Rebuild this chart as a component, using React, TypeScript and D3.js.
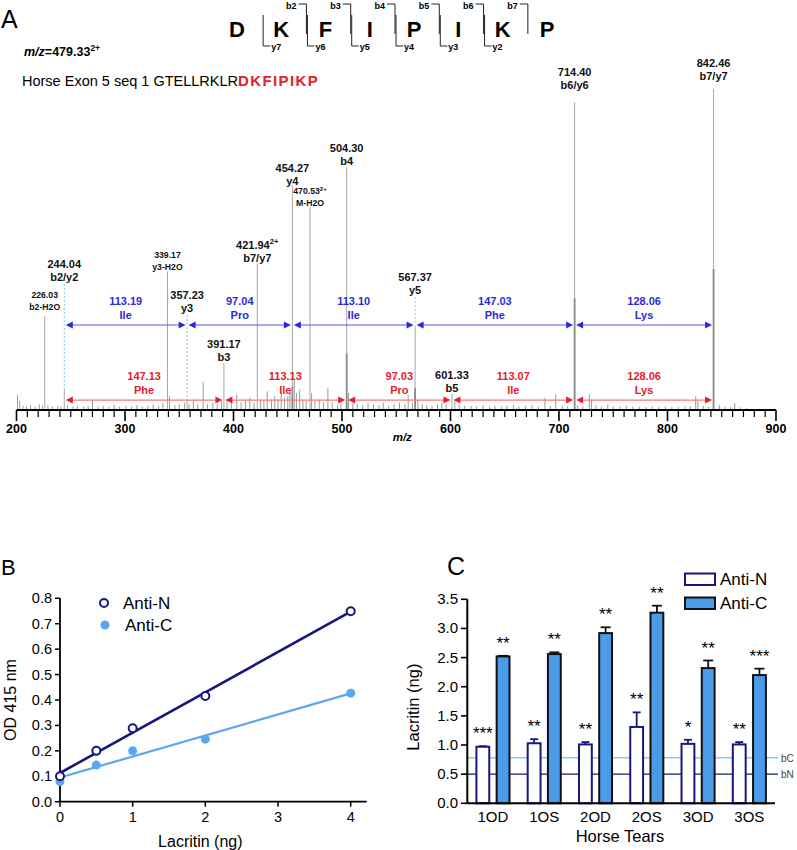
import React from 'react';
import * as d3 from 'd3';

const FONT = 'Liberation Sans, Arial, Helvetica, sans-serif';

// ---------- Panel A data ----------
const residues = ['D', 'K', 'F', 'I', 'P', 'I', 'K', 'P'];
const bIons = ['b2', 'b3', 'b4', 'b5', 'b6', 'b7']; // cleavage after residue 1..6
const yIons = ['y7', 'y6', 'y5', 'y4', 'y3', 'y2']; // cleavage after residue 0..5
const precursorMz = '479.33';
const seqPrefix = 'Horse Exon 5 seq 1 GTELLRKLR';
const seqPeptide = 'DKFIPIKP';

type LPeak = { mz: number; intensity: number; labelAt: number; lines: string[]; small?: boolean; dashed?: boolean; charge?: string };
const labeledPeaks: LPeak[] = [
  { mz: 226.03, intensity: 29, labelAt: 31, lines: ['226.03', 'b2-H2O'], small: true },
  { mz: 244.04, intensity: 6, labelAt: 40, lines: ['244.04', 'b2/y2'], dashed: true },
  { mz: 339.17, intensity: 43, labelAt: 43.4, lines: ['339.17', 'y3-H2O'], small: true },
  { mz: 357.23, intensity: 3, labelAt: 30.3, lines: ['357.23', 'y3'], dashed: true },
  { mz: 391.17, intensity: 14.4, labelAt: 15, lines: ['391.17', 'b3'] },
  { mz: 421.94, intensity: 45.6, labelAt: 45.9, lines: ['421.94', 'b7/y7'], charge: '2+' },
  { mz: 454.27, intensity: 70, labelAt: 70, lines: ['454.27', 'y4'] },
  { mz: 470.53, intensity: 63, labelAt: 63.4, lines: ['470.53', 'M-H2O'], small: true, charge: '2+' },
  { mz: 504.3, intensity: 75.6, labelAt: 76.2, lines: ['504.30', 'b4'] },
  { mz: 567.37, intensity: 25.6, labelAt: 35.9, lines: ['567.37', 'y5'], dashed: true },
  { mz: 601.33, intensity: 4.7, labelAt: 5.3, lines: ['601.33', 'b5'] },
  { mz: 714.4, intensity: 95.9, labelAt: 100, lines: ['714.40', 'b6/y6'] },
  { mz: 842.46, intensity: 100, labelAt: 102.8, lines: ['842.46', 'b7/y7'] },
];

// darker lower (profile) part of the strongest peaks
const profilePeaks: [number, number][] = [
  [842.46, 43.7], [714.4, 34.6], [504.3, 17.3], [454.27, 7], [567.37, 6.5],
];

const noisePeaks: [number, number][] = [
  [201, 4.5], [203, 2.5], [206, 1], [209, 0.8], [213, 1.2], [217, 0.7], [221, 1.5], [224, 1], [229, 1.2], [233, 0.8],
  [238, 1], [241, 0.8], [247, 1.2], [252, 0.8], [256, 1], [262, 0.7], [266, 1], [270, 3], [275, 0.8], [280, 1],
  [285, 0.7], [290, 1.2], [295, 0.8], [301, 1], [306, 0.7], [311, 1.3], [316, 0.8], [321, 1], [326, 1.5], [331, 1],
  [335, 1.8], [341, 4], [346, 1.2], [350, 1.5], [355, 2], [359, 1.5], [363, 2.5], [367, 1.5], [372, 8.5], [376, 1.5],
  [381, 2], [385, 1.5], [389, 2.5], [394, 3], [398, 2], [403, 4.5], [407, 2], [411, 2.5], [415, 3.5], [419, 2],
  [425, 3], [428, 2.5], [431, 5.5], [435, 3], [438, 4], [441, 3], [444, 5], [447, 3.5], [450, 4], [452, 6],
  [456, 9], [458, 5], [461, 6], [464, 3], [467, 2.5], [472, 5], [475, 2.5], [479, 3], [483, 2], [487, 6.5],
  [491, 2], [496, 1.5], [499, 2], [506, 5], [510, 2], [514, 1.5], [519, 1.2], [524, 2], [529, 1.5], [534, 1.2],
  [538, 2], [543, 1], [548, 1.5], [553, 2], [558, 1.5], [561, 4.5], [565, 2], [570, 3], [574, 1.5], [578, 1.2],
  [583, 1], [588, 1.5], [592, 2], [596, 1.5], [604, 2.5], [608, 1.5], [613, 1], [619, 1], [624, 0.8], [630, 1.2],
  [636, 0.8], [641, 1], [647, 0.8], [652, 1], [658, 1.2], [663, 0.8], [669, 1], [675, 1.2], [681, 0.8], [687, 3.5],
  [692, 1], [697, 4.5], [703, 1], [708, 0.8], [717, 1.2], [722, 0.8], [728, 4.5], [730, 3], [734, 1.2], [739, 0.8],
  [745, 1.5], [750, 0.8], [756, 0.7], [762, 1], [768, 0.7], [774, 0.8], [780, 0.6], [786, 0.8], [792, 0.6], [798, 0.8],
  [804, 0.6], [810, 0.7], [816, 0.8], [821, 1], [826, 4], [828, 2.5], [833, 1], [838, 0.8], [848, 1.2], [853, 0.7],
  [858, 0.6], [862, 1.8], [867, 0.5], [873, 0.4],
];

const blueLadder = [244.04, 357.23, 454.27, 567.37, 714.4, 842.46];
const blueDeltas = ['113.19', '97.04', '113.10', '147.03', '128.06'];
const blueResidues = ['Ile', 'Pro', 'Ile', 'Phe', 'Lys'];
const redLadder = [244.04, 391.17, 504.3, 601.33, 714.4, 842.46];
const redDeltas = ['147.13', '113.13', '97.03', '113.07', '128.06'];
const redResidues = ['Phe', 'Ile', 'Pro', 'Ile', 'Lys'];
const blueLevel = 26.25;
const redLevel = 2.8;
const mzTicks = d3.range(200, 901, 10);
const mzLabels = d3.range(200, 901, 100);

// ---------- Panel B data ----------
const conc = [0, 0.5, 1, 2, 4];
const odAntiN = [0.1, 0.2, 0.289, 0.416, 0.749];
const odAntiC = [0.079, 0.144, 0.2, 0.246, 0.427];
const bYTicks = d3.range(0, 0.81, 0.1);
const bXTicks = [0, 1, 2, 3, 4];

// ---------- Panel C data ----------
const tears = ['1OD', '1OS', '2OD', '2OS', '3OD', '3OS'];
const antiN = [0.97, 1.03, 1.01, 1.31, 1.02, 1.01];
const antiNErr = [0.01, 0.07, 0.04, 0.25, 0.07, 0.04];
const antiC = [2.52, 2.56, 2.92, 3.27, 2.32, 2.2];
const antiCErr = [0.01, 0.03, 0.1, 0.12, 0.13, 0.11];
const starsN = ['***', '**', '**', '**', '*', '**'];
const starsC = ['**', '**', '**', '**', '**', '***'];
const baselineN = 0.5;
const baselineC = 0.78;
const cYTicks = d3.range(0, 3.51, 0.5);

const NAVY = '#17177d';
const LIGHT = '#5aa6ef';
const BARBLUE = '#4a9be8';
const BLUE_T = '#2b2bdc';
const RED_T = '#e4202a';

function regression(xs: number[], ys: number[]) {
  const mx = d3.mean(xs)!;
  const my = d3.mean(ys)!;
  const sxy = d3.sum(xs.map((x, i) => (x - mx) * (ys[i] - my)));
  const sxx = d3.sum(xs.map((x) => (x - mx) * (x - mx)));
  const slope = sxy / sxx;
  return { slope, intercept: my - slope * mx };
}

function Ladder({ ladder, deltas, names, level, color, lineColor, x, y }: any) {
  const ay = y(level);
  return (
    <g>
      {deltas.map((d: string, i: number) => {
        const x1 = x(ladder[i]) + 1.5;
        const x2 = x(ladder[i + 1]) - 1.5;
        const mid = (x1 + x2) / 2;
        return (
          <g key={i}>
            <line x1={x1 + 4} x2={x2 - 4} y1={ay} y2={ay} stroke={lineColor} strokeWidth={1.2} />
            <path d={`M${x1},${ay}L${x1 + 7},${ay - 3.5}L${x1 + 7},${ay + 3.5}Z`} fill={color} />
            <path d={`M${x2},${ay}L${x2 - 7},${ay - 3.5}L${x2 - 7},${ay + 3.5}Z`} fill={color} />
            <text x={mid} y={ay - 20} textAnchor="middle" fontSize={11} fontWeight="bold" fill={color}>{d}</text>
            <text x={mid} y={ay - 6} textAnchor="middle" fontSize={11} fontWeight="bold" fill={color}>{names[i]}</text>
          </g>
        );
      })}
    </g>
  );
}

function PanelA() {
  const x = d3.scaleLinear().domain([200, 900]).range([16.5, 776]);
  const y = d3.scaleLinear().domain([0, 100]).range([409, 89]);
  const rx = d3.scalePoint<number>().domain(d3.range(residues.length)).range([237, 547]);
  const mid = (i: number) => (rx(i)! + rx(i + 1)!) / 2;
  return (
    <g fontFamily={FONT}>
      <text x={1} y={28} fontSize={25}>A</text>
      {/* sequence header */}
      {residues.map((r, i) => (
        <text key={i} x={rx(i)} y={37} textAnchor="middle" fontSize={22} fontWeight="bold">{r}</text>
      ))}
      {bIons.map((b, i) => {
        const bx = mid(i + 1) + 3;
        return (
          <g key={b}>
            <path d={`M${bx - 8},4H${bx}V34`} fill="none" stroke="#222" strokeWidth={1} />
            <text x={bx - 10} y={9} textAnchor="end" fontSize={9} fontWeight="bold">{b}</text>
          </g>
        );
      })}
      {yIons.map((yl, i) => {
        const yx = mid(i) + 4;
        return (
          <g key={yl}>
            <path d={`M${yx},15V46H${yx + 7}`} fill="none" stroke="#222" strokeWidth={1} />
            <text x={yx + 8} y={50} fontSize={9} fontWeight="bold">{yl}</text>
          </g>
        );
      })}
      <text x={24} y={56} fontSize={12.5} fontWeight="bold">
        <tspan fontStyle="italic">m/z</tspan>={precursorMz}
        <tspan fontSize={8.5} dy={-5}>2+</tspan>
      </text>
      <text x={22} y={86} fontSize={14.5}>
        {seqPrefix}
        <tspan fill={RED_T} fontWeight="bold" fontSize={15} letterSpacing={1.4}>{seqPeptide}</tspan>
      </text>

      {/* noise peaks */}
      {noisePeaks.map(([m, v], i) => (
        <line key={i} x1={x(m)} x2={x(m)} y1={y(0)} y2={y(v)} stroke="#9a9a9a" strokeWidth={1} />
      ))}
      {/* labeled peaks */}
      {labeledPeaks.map((p) => (
        <line key={p.mz} x1={x(p.mz)} x2={x(p.mz)} y1={y(0)} y2={y(p.intensity)} stroke="#a8a8a8" strokeWidth={1} />
      ))}
      {profilePeaks.map(([m, v]) => (
        <line key={m} x1={x(m)} x2={x(m)} y1={y(0)} y2={y(v)} stroke="#8a8a8a" strokeWidth={1.8} />
      ))}
      {labeledPeaks.filter((p) => p.dashed).map((p) => (
        <line key={'d' + p.mz} x1={x(p.mz)} x2={x(p.mz)} y1={y(p.labelAt) + 3} y2={y(p.intensity)} stroke="#8cc4ec" strokeWidth={1} strokeDasharray="2,2" />
      ))}
      <Ladder ladder={blueLadder} deltas={blueDeltas} names={blueResidues} level={blueLevel} color={BLUE_T} lineColor="#5656f2" x={x} y={y} />
      <Ladder ladder={redLadder} deltas={redDeltas} names={redResidues} level={redLevel} color={RED_T} lineColor="#f07a7a" x={x} y={y} />
      {labeledPeaks.map((p) => {
        const fs = p.small ? 8.7 : 11;
        const gap = p.small ? 12 : 13.5;
        const ly = y(p.labelAt);
        return (
          <g key={'l' + p.mz} fontWeight="bold" fill="#111">
            <text x={x(p.mz)} y={ly - gap} textAnchor="middle" fontSize={fs}>
              {p.lines[0]}
              {p.charge && <tspan fontSize={fs * 0.7} dy={-fs * 0.4}>{p.charge}</tspan>}
            </text>
            <text x={x(p.mz)} y={ly} textAnchor="middle" fontSize={fs}>{p.lines[1]}</text>
          </g>
        );
      })}
      {/* axis */}
      <line x1={x(200)} x2={x(900)} y1={410} y2={410} stroke="#000" strokeWidth={2} />
      {mzTicks.map((t) => (
        <line key={t} x1={x(t)} x2={x(t)} y1={410} y2={t % 100 === 0 ? 421 : 417} stroke="#000" strokeWidth={t % 100 === 0 ? 1.6 : 1.2} />
      ))}
      {mzLabels.map((t) => (
        <text key={t} x={x(t)} y={433} textAnchor="middle" fontSize={12.5} fontWeight="bold">{t}</text>
      ))}
      <text x={x(550) + 6} y={441} textAnchor="middle" fontSize={11.5} fontWeight="bold" fontStyle="italic">m/z</text>
    </g>
  );
}

function PanelB() {
  const x = d3.scaleLinear().domain([0, 4]).range([60, 350.7]);
  const y = d3.scaleLinear().domain([0, 0.8]).range([801.7, 598.3]);
  const fitN = regression(conc, odAntiN);
  const fitC = regression(conc, odAntiC);
  const fmt = d3.format('.1f');
  return (
    <g fontFamily={FONT}>
      <text x={1} y={575} fontSize={22}>B</text>
      <line x1={x(0)} x2={x(0)} y1={y(0)} y2={y(0.8)} stroke="#000" strokeWidth={1.8} />
      <line x1={x(0)} x2={x(4.22)} y1={y(0)} y2={y(0)} stroke="#000" strokeWidth={1.8} />
      {bYTicks.map((t) => (
        <g key={t}>
          <line x1={x(0) - 5} x2={x(0)} y1={y(t)} y2={y(t)} stroke="#000" strokeWidth={1.5} />
          <text x={x(0) - 8} y={y(t) + 5} textAnchor="end" fontSize={14.5}>{fmt(t)}</text>
        </g>
      ))}
      {bXTicks.map((t) => (
        <g key={t}>
          <line x1={x(t)} x2={x(t)} y1={y(0)} y2={y(0) + 5} stroke="#000" strokeWidth={1.5} />
          <text x={x(t)} y={822} textAnchor="middle" fontSize={14.5}>{t}</text>
        </g>
      ))}
      <text x={x(2) - 5} y={847} textAnchor="middle" fontSize={16}>Lacritin (ng)</text>
      <text transform={`translate(16,${y(0.4)}) rotate(-90)`} textAnchor="middle" fontSize={16}>OD 415 nm</text>
      <line x1={x(0)} x2={x(4)} y1={y(fitC.intercept)} y2={y(fitC.intercept + fitC.slope * 4)} stroke={LIGHT} strokeWidth={2.2} />
      <line x1={x(0)} x2={x(4)} y1={y(fitN.intercept)} y2={y(fitN.intercept + fitN.slope * 4)} stroke={NAVY} strokeWidth={2.6} />
      {conc.map((c, i) => (
        <circle key={'c' + i} cx={x(c)} cy={y(odAntiC[i])} r={4.5} fill={LIGHT} />
      ))}
      {conc.map((c, i) => (
        <circle key={'n' + i} cx={x(c)} cy={y(odAntiN[i])} r={4} fill="#fff" stroke={NAVY} strokeWidth={2} />
      ))}
      <circle cx={104} cy={603} r={4} fill="#fff" stroke={NAVY} strokeWidth={2} />
      <text x={123} y={609} fontSize={17}>Anti-N</text>
      <circle cx={105} cy={625} r={4.5} fill={LIGHT} />
      <text x={125} y={631} fontSize={17}>Anti-C</text>
    </g>
  );
}

function PanelC() {
  const y = d3.scaleLinear().domain([0, 3.5]).range([803.3, 599.3]);
  const x = d3.scaleBand().domain(tears).range([467.3, 775]);
  const sub = d3.scaleBand().domain(['N', 'C']).range([0, x.bandwidth()]).paddingInner(0.365).paddingOuter(0.45);
  const bw = sub.bandwidth();
  const fmt = d3.format('.1f');
  return (
    <g fontFamily={FONT}>
      <text x={447} y={575} fontSize={25}>C</text>
      {/* baselines */}
      <line x1={467.3} x2={778} y1={y(baselineC)} y2={y(baselineC)} stroke="#8ec6f4" strokeWidth={1.5} />
      <line x1={467.3} x2={778} y1={y(baselineN)} y2={y(baselineN)} stroke={NAVY} strokeWidth={1.3} />
      <text x={781} y={y(baselineC) + 4} fontSize={10} fill="#444">bC</text>
      <text x={781} y={y(baselineN) + 4} fontSize={10} fill="#444">bN</text>
      {tears.map((t, i) => {
        const xn = x(t)! + sub('N')!;
        const xc = x(t)! + sub('C')!;
        const nTop = y(antiN[i] + antiNErr[i]);
        const cTop = y(antiC[i] + antiCErr[i]);
        return (
          <g key={t}>
            <line x1={xn + bw / 2} x2={xn + bw / 2} y1={y(antiN[i])} y2={nTop} stroke={NAVY} strokeWidth={1.8} />
            <line x1={xn + bw / 2 - 4} x2={xn + bw / 2 + 4} y1={nTop} y2={nTop} stroke={NAVY} strokeWidth={1.8} />
            <rect x={xn} y={y(antiN[i])} width={bw} height={y(0) - y(antiN[i])} fill="#fff" stroke={NAVY} strokeWidth={2} />
            <line x1={xc + bw / 2} x2={xc + bw / 2} y1={y(antiC[i])} y2={cTop} stroke="#111" strokeWidth={1.8} />
            <line x1={xc + bw / 2 - 5} x2={xc + bw / 2 + 5} y1={cTop} y2={cTop} stroke="#111" strokeWidth={1.8} />
            <rect x={xc} y={y(antiC[i])} width={bw} height={y(0) - y(antiC[i])} fill={BARBLUE} stroke="#111" strokeWidth={2} />
            <text x={xn + bw / 2} y={nTop - 7} textAnchor="middle" fontSize={17}>{starsN[i]}</text>
            <text x={xc + bw / 2} y={cTop - 7} textAnchor="middle" fontSize={17}>{starsC[i]}</text>
            <text x={x(t)! + x.bandwidth() / 2} y={822} textAnchor="middle" fontSize={15}>{t}</text>
          </g>
        );
      })}
      {/* axes */}
      <line x1={467.3} x2={467.3} y1={y(0)} y2={y(3.5)} stroke="#000" strokeWidth={2} />
      <line x1={467.3} x2={775} y1={y(0)} y2={y(0)} stroke="#000" strokeWidth={2} />
      {cYTicks.map((t) => (
        <g key={t}>
          <line x1={461} x2={467.3} y1={y(t)} y2={y(t)} stroke="#000" strokeWidth={1.6} />
          <text x={458} y={y(t) + 5} textAnchor="end" fontSize={15}>{fmt(t)}</text>
        </g>
      ))}
      <text x={620} y={842} textAnchor="middle" fontSize={16.5}>Horse Tears</text>
      <text transform={`translate(419,${y(1.65)}) rotate(-90)`} textAnchor="middle" fontSize={16.5}>Lacritin (ng)</text>
      {/* legend */}
      <rect x={685} y={573.5} width={30} height={11.5} fill="#fff" stroke={NAVY} strokeWidth={2} />
      <text x={720} y={585} fontSize={17}>Anti-N</text>
      <rect x={685} y={597.5} width={30} height={11.5} fill={BARBLUE} stroke="#111" strokeWidth={2} />
      <text x={720} y={609} fontSize={17}>Anti-C</text>
    </g>
  );
}

export default function App() {
  return (
    <svg width={797} height={850} viewBox="0 0 797 850" style={{ position: 'absolute', left: 0, top: 0, background: '#fff' }}>
      <rect width={797} height={850} fill="#fff" />
      <PanelA />
      <PanelB />
      <PanelC />
    </svg>
  );
}
